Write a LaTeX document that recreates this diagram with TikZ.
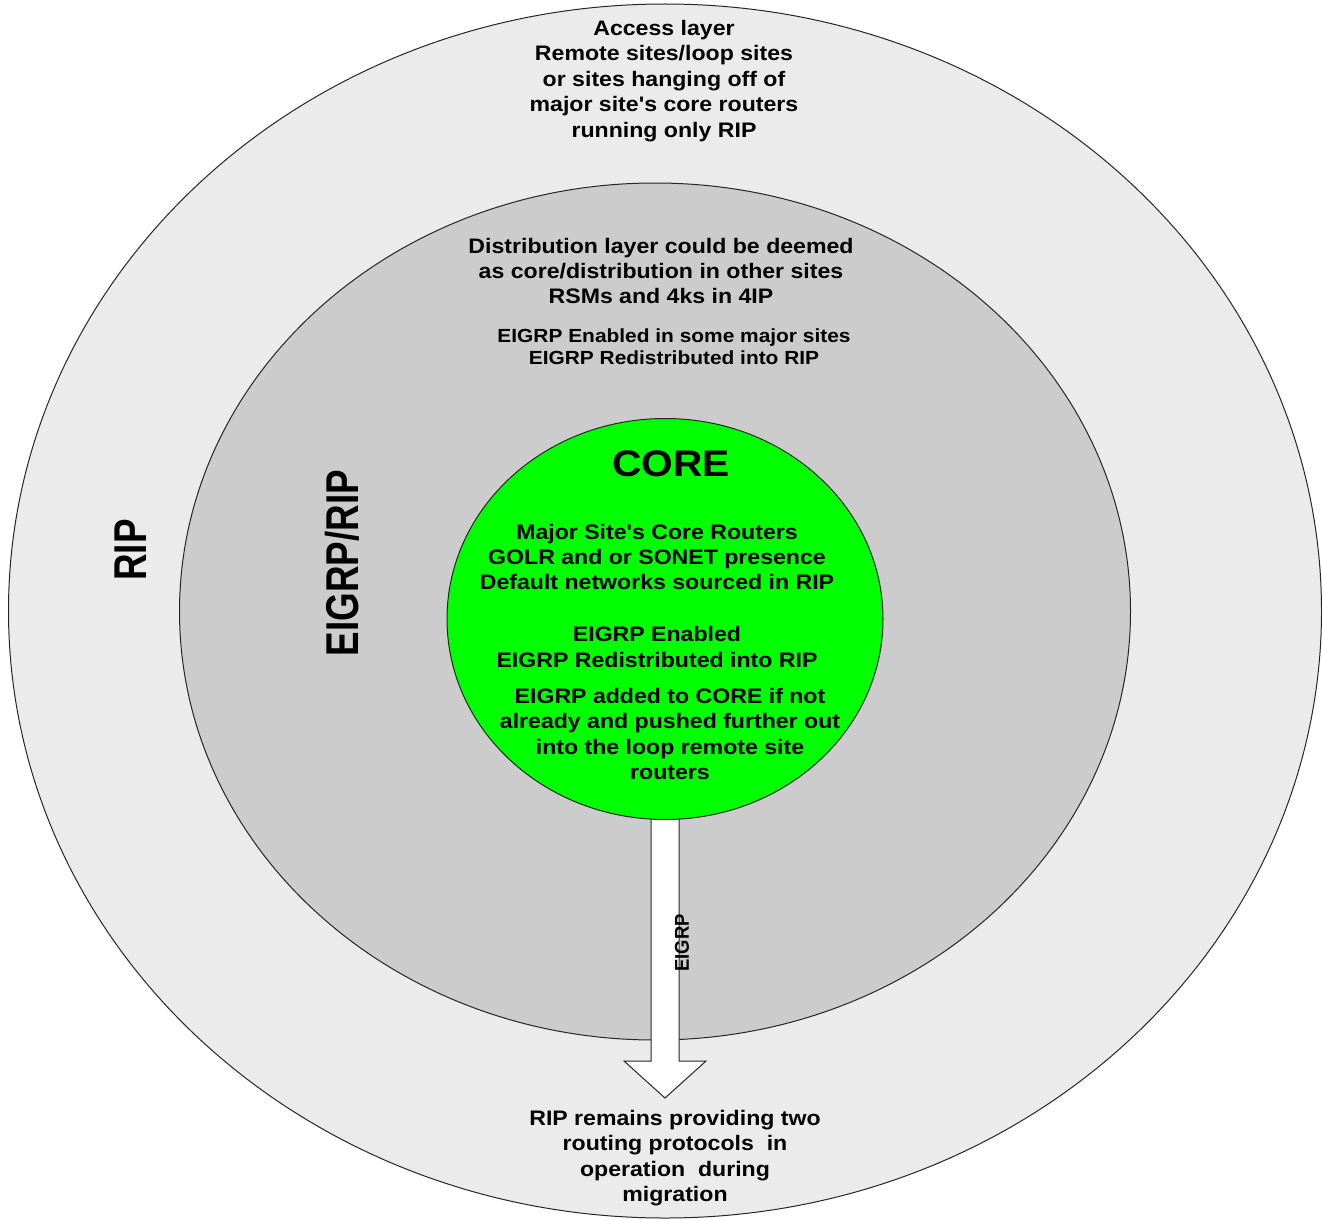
\documentclass[tikz,border=0pt]{standalone}
\usepackage{fontspec}
\setmainfont[FakeStretch=1.1,Ligatures=TeXOff,BoldFont={Liberation Sans Bold}]{Liberation Sans}
\newfontfamily\condfont[FakeStretch=0.8]{Liberation Sans Bold}
\newfontfamily\smallcond[FakeStretch=0.92]{Liberation Sans Bold}
\usetikzlibrary{shapes.geometric}
\definecolor{outergray}{HTML}{EBEBEB}
\definecolor{midgray}{HTML}{CCCCCC}
\definecolor{coregreen}{HTML}{00FF00}
\tikzset{
  ring/.style={ellipse, draw=black!85, line width=1pt, inner sep=0pt},
  body/.style={align=center, inner sep=0pt, font=\bfseries\fontsize{21}{25.4}\selectfont},
  smallbody/.style={align=center, inner sep=0pt, font=\bfseries\fontsize{19}{22}\selectfont},
  biglabel/.style={rotate=90, inner sep=0pt, font=\condfont\fontsize{46}{50}\selectfont},
}
\begin{document}
\begin{tikzpicture}[x=1pt,y=-1pt]
\useasboundingbox (0,0) rectangle (1322,1220);
\node[ring, fill=outergray, minimum width=1313pt, minimum height=1214pt] (outer) at (665,611) {};
\node[ring, fill=midgray, minimum width=951pt, minimum height=857pt] (mid) at (655,611.5) {};
% arrow (drawn before the core so the core outline stays on top)
\coordinate (shafttop) at (665,810);
\coordinate (tip) at (665,1098);
\draw[draw=black!85, line width=1pt, fill=white]
  ([xshift=-14pt]shafttop) -- (651,1061) -- (624,1061) -- (tip) -- (706,1061) -- (679,1061) -- ([xshift=14pt]shafttop) -- cycle;
\node[ring, fill=coregreen, minimum width=436pt, minimum height=401pt] (core) at (665,619) {};
\node[rotate=90, inner sep=0pt, font=\smallcond\fontsize{20}{22}\selectfont] (arrowlbl) at (682,943) {EIGRP};
% texts
\node[body] (access) at (664,81) {Access layer\\Remote sites/loop sites\\or sites hanging off of\\major site's core routers\\running only RIP};
\node[body] (dist) at (661,271) {Distribution layer could be deemed\\as core/distribution in other sites\\RSMs and 4ks in 4IP};
\node[smallbody] (distb) at (674,347) {EIGRP Enabled in some major sites\\EIGRP Redistributed into RIP};
\node[inner sep=0pt, font=\bfseries\fontsize{37}{40}\selectfont] (coretitle) at (671,464) {CORE};
\node[body] (core1) at (657,557) {Major Site's Core Routers\\GOLR and or SONET presence\\Default networks sourced in RIP};
\node[body] (core2) at (657,647) {EIGRP Enabled\\EIGRP Redistributed into RIP};
\node[body] (core3) at (670,734) {EIGRP added to CORE if not\\already and pushed further out\\into the loop remote site\\routers};
\node[body] (bottom) at (675,1158) {RIP remains providing two\\routing protocols\ \ in\\operation\ \ during\\migration};
\node[biglabel] (riplbl) at (131,550) {RIP};
\node[biglabel] (eigrplbl) at (342,563) {EIGRP/RIP};
\end{tikzpicture}
\end{document}
